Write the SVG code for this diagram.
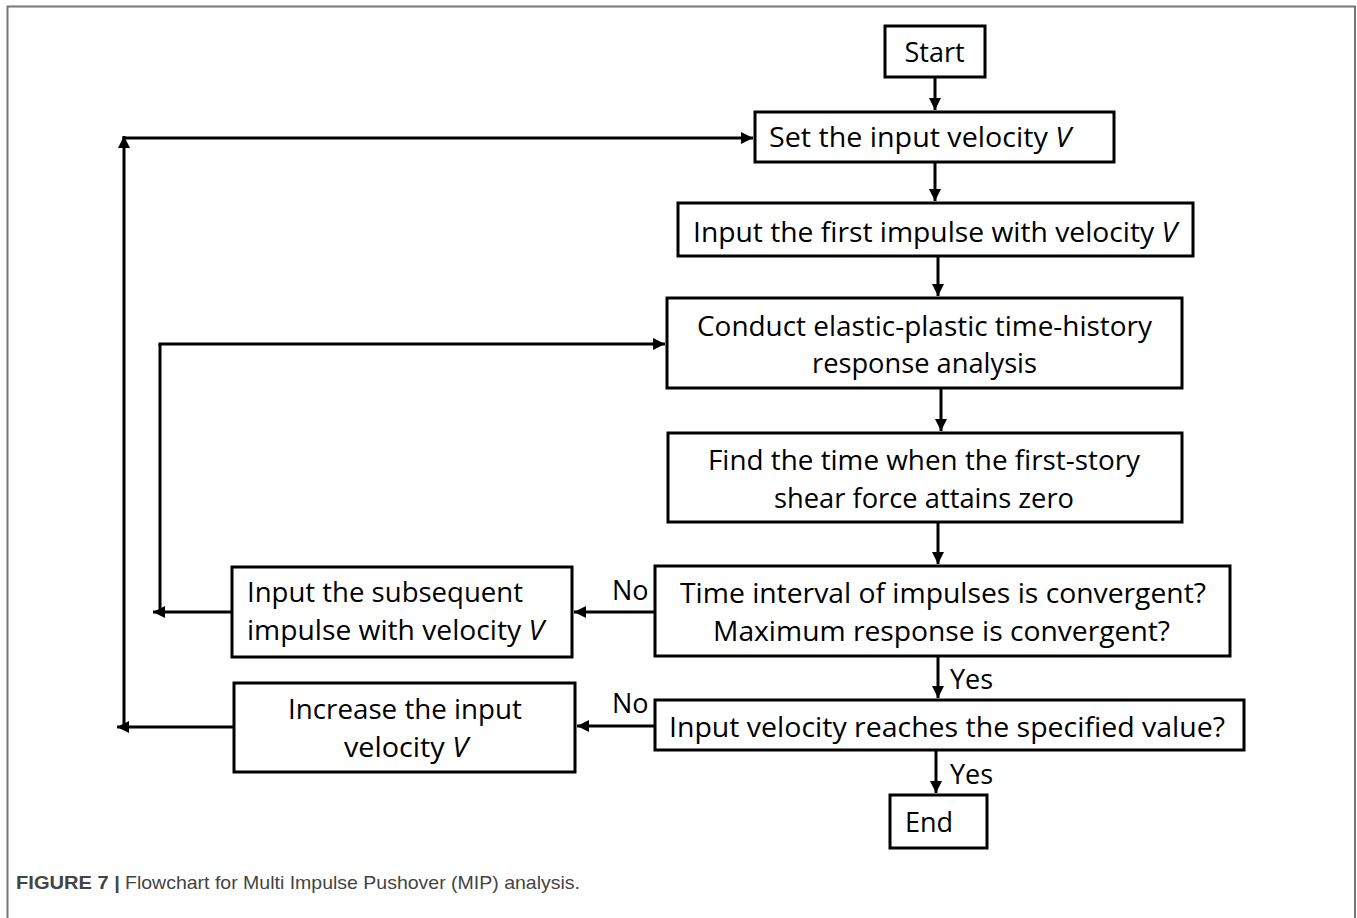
<svg xmlns="http://www.w3.org/2000/svg" width="1357" height="918" viewBox="0 0 1357 918">
<style>
.box{fill:#fff;stroke:#000;stroke-width:3}
.t{font-family:"Open Sans","Noto Sans",sans-serif;font-size:27px;fill:#000}
.ln{stroke:#000;stroke-width:3;fill:none}
.frame{stroke:#777;stroke-width:2;fill:none}
.cap{font-family:"Liberation Sans",Arial,sans-serif;font-size:19px;fill:#444}
</style>
<defs>
<marker id="ah" viewBox="0 0 10 10" refX="10" refY="5" markerWidth="4" markerHeight="4" markerUnits="strokeWidth" orient="auto">
<path d="M0,0 L10,5 L0,10 z" fill="#000"/>
</marker>
</defs>
<path class="frame" d="M7.5,918 V6.5 H1355 V918"/>
<g id="connectors">
<line class="ln" x1="935" y1="77" x2="935" y2="110" marker-end="url(#ah)"/>
<line class="ln" x1="935" y1="162" x2="935" y2="201" marker-end="url(#ah)"/>
<line class="ln" x1="938" y1="256" x2="938" y2="296" marker-end="url(#ah)"/>
<line class="ln" x1="941" y1="388" x2="941" y2="431" marker-end="url(#ah)"/>
<line class="ln" x1="938" y1="522" x2="938" y2="564" marker-end="url(#ah)"/>
<line class="ln" x1="938" y1="656" x2="938" y2="698" marker-end="url(#ah)"/>
<line class="ln" x1="936" y1="750" x2="936" y2="793" marker-end="url(#ah)"/>
<line class="ln" x1="655" y1="612" x2="574" y2="612" marker-end="url(#ah)"/>
<line class="ln" x1="655" y1="726" x2="577" y2="726" marker-end="url(#ah)"/>
<line class="ln" x1="232" y1="612" x2="153" y2="612" marker-end="url(#ah)"/>
<line class="ln" x1="160" y1="612" x2="160" y2="344"/>
<line class="ln" x1="158.5" y1="344" x2="665" y2="344" marker-end="url(#ah)"/>
<line class="ln" x1="234" y1="727" x2="117" y2="727" marker-end="url(#ah)"/>
<line class="ln" x1="124" y1="727" x2="124" y2="136" marker-end="url(#ah)"/>
<line class="ln" x1="122.5" y1="138" x2="753" y2="138" marker-end="url(#ah)"/>
<text class="t" x="612" y="600">No</text>
<text class="t" x="612" y="713">No</text>
<text class="t" x="950" y="689">Yes</text>
<text class="t" x="950" y="784">Yes</text>
</g>
<g id="start">
<rect class="box" x="885" y="26" width="100" height="51"/>
<text class="t" x="934.5" y="62" text-anchor="middle">Start</text>
</g>
<g id="set-velocity">
<rect class="box" x="755" y="112" width="359" height="50"/>
<text class="t" x="769" y="147" textLength="302" lengthAdjust="spacingAndGlyphs">Set the input velocity <tspan font-style="italic">V</tspan></text>
</g>
<g id="first-impulse">
<rect class="box" x="678" y="203" width="515" height="53"/>
<text class="t" x="693" y="242" textLength="484" lengthAdjust="spacingAndGlyphs">Input the first impulse with velocity <tspan font-style="italic">V</tspan></text>
</g>
<g id="conduct">
<rect class="box" x="667" y="298" width="515" height="90"/>
<text class="t" x="697" y="336" textLength="455" lengthAdjust="spacingAndGlyphs">Conduct elastic-plastic time-history</text>
<text class="t" x="812" y="373" textLength="225" lengthAdjust="spacingAndGlyphs">response analysis</text>
</g>
<g id="find-time">
<rect class="box" x="668" y="433" width="514" height="89"/>
<text class="t" x="708" y="470" textLength="432" lengthAdjust="spacingAndGlyphs">Find the time when the first-story</text>
<text class="t" x="774" y="508" textLength="300" lengthAdjust="spacingAndGlyphs">shear force attains zero</text>
</g>
<g id="convergence">
<rect class="box" x="655" y="566" width="575" height="90"/>
<text class="t" x="680" y="603" textLength="526" lengthAdjust="spacingAndGlyphs">Time interval of impulses is convergent?</text>
<text class="t" x="713" y="641" textLength="457" lengthAdjust="spacingAndGlyphs">Maximum response is convergent?</text>
</g>
<g id="specified-value">
<rect class="box" x="655" y="700" width="589" height="50"/>
<text class="t" x="669" y="737" textLength="556" lengthAdjust="spacingAndGlyphs">Input velocity reaches the specified value?</text>
</g>
<g id="end">
<rect class="box" x="890" y="795" width="97" height="53"/>
<text class="t" x="905" y="832">End</text>
</g>
<g id="subsequent">
<rect class="box" x="232" y="567" width="340" height="90"/>
<text class="t" x="247" y="602" textLength="276" lengthAdjust="spacingAndGlyphs">Input the subsequent</text>
<text class="t" x="247" y="640" textLength="297" lengthAdjust="spacingAndGlyphs">impulse with velocity <tspan font-style="italic">V</tspan></text>
</g>
<g id="increase">
<rect class="box" x="234" y="683" width="341" height="89"/>
<text class="t" x="288" y="719" textLength="234" lengthAdjust="spacingAndGlyphs">Increase the input</text>
<text class="t" x="344" y="757" textLength="124" lengthAdjust="spacingAndGlyphs">velocity <tspan font-style="italic">V</tspan></text>
</g>
<g id="caption">
<text class="cap" x="16" y="889" font-weight="bold" fill="#333" textLength="104" lengthAdjust="spacingAndGlyphs">FIGURE 7 |</text>
<text class="cap" x="125" y="889" textLength="455" lengthAdjust="spacingAndGlyphs">Flowchart for Multi Impulse Pushover (MIP) analysis.</text>
</g>
</svg>
